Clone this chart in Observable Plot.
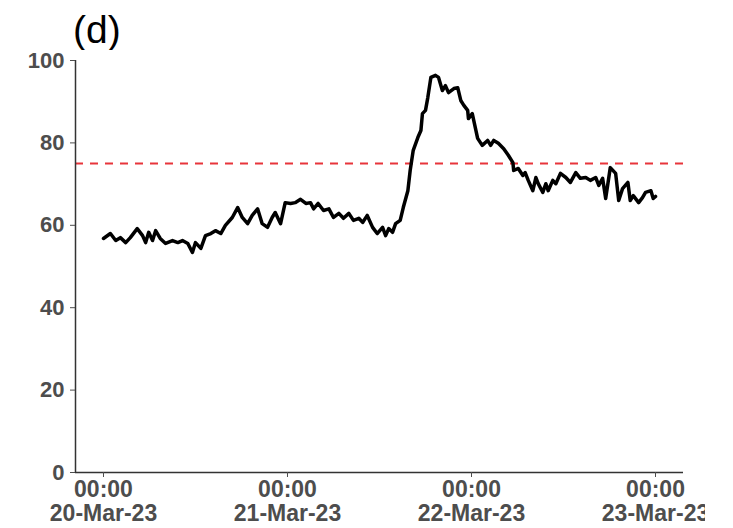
<!DOCTYPE html>
<html>
<head>
<meta charset="utf-8">
<script src="https://cdn.jsdelivr.net/npm/d3@7"></script>
<script src="https://cdn.jsdelivr.net/npm/@observablehq/plot@0.6"></script>
<style>
  body { margin: 0; background: #fff; font-family: "Liberation Sans", Arial, sans-serif; }
  #wrap { position: relative; width: 705px; height: 528px; overflow: hidden; }
  #title { position: absolute; left: 73px; top: 10px; font-size: 39px; line-height: 1; color: #000; }
  #chart { position: absolute; left: 0; top: 50px; width: 733px; }
  #chart svg { max-width: none; }
</style>
</head>
<body>
<div id="wrap">
  <div id="title">(d)</div>
  <div id="chart"></div>
</div>
<script>
// Hours elapsed since 20-Mar-23 00:00 (UTC)
const hours = [
  0, 0.9, 1.6, 2.2, 2.9, 3.5, 4.4, 5.1, 5.5, 5.9, 6.4, 6.8, 7.4, 8.1, 9.0, 9.7,
  10.3, 11.0, 11.6, 12.0, 12.7, 13.3, 14.0, 14.6, 15.3, 15.9, 16.8, 17.5, 18.1, 18.8,
  19.4, 20.1, 20.7, 21.4, 22.0, 22.4, 23.1, 23.7, 24.4, 25.0, 25.7, 26.4, 27.0, 27.4,
  28.0, 28.7, 29.4, 30.0, 30.7, 31.3, 32.0, 32.6, 33.3, 33.8, 34.4, 35.1, 35.7, 36.4,
  36.8, 37.2, 37.7, 38.1, 38.7, 39.1, 39.7, 40.0, 40.4, 41.0, 41.4, 41.6, 42.0, 42.3,
  42.7, 43.3, 43.7, 44.2, 44.6, 45.0, 45.7, 46.2, 46.6, 47.0, 47.5, 47.6, 48.1, 48.8,
  49.4, 50.1, 50.5, 50.9, 51.5, 52.2, 52.8, 53.4, 53.5, 54.1, 54.7, 55.0, 55.4, 56.0,
  56.4, 56.7, 57.3, 57.7, 58.0, 58.6, 59.0, 59.6, 60.3, 60.9, 61.6, 62.2, 62.9, 63.5,
  64.2, 64.6, 65.1, 65.5, 66.1, 66.8, 67.2, 67.7, 68.4, 68.7, 69.1, 69.8, 70.3, 70.7,
  71.4, 71.7, 72.0
];
// Measured level at each time
const values = [
  56.8, 58.0, 56.3, 57.0, 55.8, 57.0, 59.2, 57.5, 55.8, 58.3, 56.3, 58.7, 56.8, 55.6, 56.3, 55.8,
  56.3, 55.6, 53.4, 55.8, 54.4, 57.5, 58.0, 58.7, 58.0, 60.0, 61.9, 64.3, 61.9, 60.4,
  62.4, 64.0, 60.4, 59.5, 61.9, 63.1, 60.4, 65.5, 65.3, 65.5, 66.3, 65.3, 65.5, 64.0,
  65.3, 63.6, 64.0, 61.9, 62.9, 61.7, 62.9, 61.2, 61.7, 60.7, 62.4, 59.5, 58.0, 59.5,
  57.5, 59.2, 58.3, 60.4, 61.2, 64.3, 68.4, 73.3, 78.2, 81.3, 83.0, 87.1, 87.9, 91.0,
  95.9, 96.4, 95.9, 92.7, 93.9, 92.2, 93.2, 93.4, 90.3, 89.1, 87.9, 85.9, 87.1, 81.1,
  79.4, 80.6, 79.4, 80.6, 79.9, 78.6, 77.0, 75.2, 73.3, 73.8, 72.1, 72.8, 70.9, 68.4,
  71.6, 70.1, 68.0, 70.1, 68.4, 70.9, 70.1, 72.6, 71.6, 70.4, 72.8, 71.4, 71.6, 70.9,
  71.6, 69.7, 71.4, 66.5, 74.0, 72.6, 66.0, 68.9, 70.4, 66.0, 67.2, 65.5, 66.7, 68.0,
  68.4, 66.5, 67.0
];
const tickHours = [0, 24, 48, 72];
const yTicks = [0, 20, 40, 60, 80, 100];
const threshold = 75;

const start = Date.UTC(2023, 2, 20);
const HOUR = 3600e3;
const toDate = h => new Date(start + h * HOUR);
const data = hours.map((h, i) => ({time: toDate(h), value: values[i]}));
const xDomain = [toDate(-3.65), toDate(75.65)];

const chart = Plot.plot({
  width: 733,
  height: 478,
  marginTop: 10,
  marginLeft: 75,
  marginRight: 50,
  marginBottom: 56,
  style: {
    fontFamily: "'Liberation Sans', Arial, sans-serif",
    fontSize: "22px",
    fontWeight: "bold",
    color: "#4d4d4d",
    background: "white",
    overflow: "visible"
  },
  x: {type: "utc", domain: xDomain},
  y: {domain: [0, 100]},
  marks: [
    Plot.ruleY([threshold], {stroke: "#e8353b", strokeWidth: 2, strokeDasharray: "8,7"}),
    Plot.lineY(data, {x: "time", y: "value", stroke: "black", strokeWidth: 3.5, strokeLinejoin: "round"}),
    Plot.ruleX([xDomain[0]], {y1: 0, y2: 100, stroke: "#333", strokeWidth: 1.5}),
    Plot.ruleY([0], {stroke: "#333", strokeWidth: 1.5}),
    Plot.axisX({
      ticks: tickHours.map(toDate),
      tickFormat: d3.utcFormat("%H:%M\n%d-%b-%y"),
      tickSize: 5,
      tickPadding: 3,
      lineHeight: 1.04,
      fontSize: 23,
      label: null
    }),
    Plot.axisY({ticks: yTicks, tickSize: 5, tickPadding: 6, label: null})
  ]
});
document.getElementById("chart").appendChild(chart);
</script>
</body>
</html>
